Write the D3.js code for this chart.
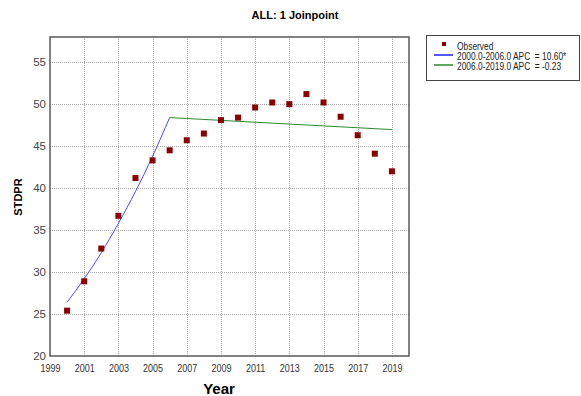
<!DOCTYPE html>
<html>
<head>
<meta charset="utf-8">
<script src="https://cdn.jsdelivr.net/npm/d3@7/dist/d3.min.js"></script>
<style>
  html, body { margin: 0; padding: 0; background: #fff; }
  svg { display: block; font-family: "Liberation Sans", Arial, sans-serif; }
  .legend-text { white-space: pre; }
</style>
</head>
<body>
<svg id="chart" width="581" height="396"></svg>
<script>
// Observed standardized rates by year
const years = [2000, 2001, 2002, 2003, 2004, 2005, 2006, 2007, 2008, 2009,
               2010, 2011, 2012, 2013, 2014, 2015, 2016, 2017, 2018, 2019];
const observed = [25.4, 28.9, 32.8, 36.7, 41.2, 43.3, 44.5, 45.7, 46.5, 48.1,
                  48.4, 49.6, 50.2, 50.0, 51.2, 50.2, 48.5, 46.3, 44.1, 42.0];

// Joinpoint segment 1 (2000-2006) modelled values
const seg1Years = [2000, 2001, 2002, 2003, 2004, 2005, 2006];
const seg1Fit = [26.4, 29.2, 32.3, 35.8, 39.6, 43.8, 48.4];

// Joinpoint segment 2 (2006-2019) modelled values
const seg2Years = [2006, 2007, 2008, 2009, 2010, 2011, 2012, 2013, 2014,
                   2015, 2016, 2017, 2018, 2019];
const seg2Fit = [48.40, 48.29, 48.18, 48.07, 47.96, 47.85, 47.74, 47.63,
                 47.52, 47.41, 47.30, 47.19, 47.08, 46.97];

const xTicks = [1999, 2001, 2003, 2005, 2007, 2009, 2011, 2013, 2015, 2017, 2019];
const yTicks = [20, 25, 30, 35, 40, 45, 50, 55];

const legendLabels = ["Observed", "2000.0-2006.0 APC  = 10.60*", "2006.0-2019.0 APC  = -0.23"];
const legendColors = ["#8b0000", "#1f1fff", "#2a8a2a"];

const svg = d3.select("#chart");
const plot = { left: 50, top: 37, right: 409, bottom: 356 };

const x = d3.scaleLinear().domain([1999, 2020]).range([plot.left, plot.right]);
const y = d3.scaleLinear().domain([20, 58]).range([plot.bottom, plot.top]);

// Title
svg.append("text")
  .attr("x", 295).attr("y", 19)
  .attr("text-anchor", "middle")
  .attr("font-size", 11).attr("font-weight", "bold")
  .text("ALL: 1 Joinpoint");

// Grid lines
const grid = svg.append("g").attr("stroke", "#aaa").attr("stroke-width", 1)
  .attr("stroke-dasharray", "1,1");
grid.selectAll("line.v").data(xTicks.slice(1)).join("line")
  .attr("x1", d => Math.round(x(d)) + 0.5).attr("x2", d => Math.round(x(d)) + 0.5)
  .attr("y1", plot.top).attr("y2", plot.bottom);
grid.selectAll("line.h").data(yTicks.slice(1)).join("line")
  .attr("y1", d => Math.round(y(d)) + 0.5).attr("y2", d => Math.round(y(d)) + 0.5)
  .attr("x1", plot.left).attr("x2", plot.right);

// Axes (labels only, frame drawn separately)
const xAxis = svg.append("g")
  .attr("transform", `translate(0,${plot.bottom})`)
  .call(d3.axisBottom(x).tickValues(xTicks).tickFormat(d3.format("d")).tickSize(0).tickPadding(9));
xAxis.select(".domain").remove();
xAxis.selectAll("text").attr("font-size", 10).attr("fill", "#333")
  .attr("transform", "scale(0.9,1)");

const yAxis = svg.append("g")
  .attr("transform", `translate(${plot.left},0)`)
  .call(d3.axisLeft(y).tickValues(yTicks).tickSize(0).tickPadding(4));
yAxis.select(".domain").remove();
yAxis.selectAll("text").attr("font-size", 11.5).attr("fill", "#444");

// Frame
svg.append("rect")
  .attr("x", plot.left).attr("y", plot.top)
  .attr("width", plot.right - plot.left).attr("height", plot.bottom - plot.top)
  .attr("fill", "none").attr("stroke", "#5a5a5a").attr("stroke-width", 1.5);

// Fitted segments
const line = d3.line().x(d => x(d[0])).y(d => y(d[1])).curve(d3.curveMonotoneX);
svg.append("path")
  .datum(d3.zip(seg1Years, seg1Fit))
  .attr("fill", "none").attr("stroke", legendColors[1]).attr("stroke-width", 1)
  .attr("opacity", 0.8)
  .attr("d", line);
svg.append("path")
  .datum(d3.zip(seg2Years, seg2Fit))
  .attr("fill", "none").attr("stroke", legendColors[2]).attr("stroke-width", 1)
  .attr("d", line);

// Observed points
const ms = 6;
svg.selectAll("rect.obs").data(d3.zip(years, observed)).join("rect")
  .attr("class", "obs")
  .attr("x", d => x(d[0]) - ms / 2).attr("y", d => y(d[1]) - ms / 2)
  .attr("width", ms).attr("height", ms)
  .attr("fill", legendColors[0]);

// Axis titles
svg.append("text")
  .attr("transform", "translate(22,197) rotate(-90)")
  .attr("text-anchor", "middle")
  .attr("font-size", 11).attr("font-weight", "bold")
  .text("STDPR");
svg.append("text")
  .attr("x", 219).attr("y", 394)
  .attr("text-anchor", "middle")
  .attr("font-size", 15).attr("font-weight", "bold")
  .text("Year");

// Legend
const lg = svg.append("g");
lg.append("rect")
  .attr("x", 426.5).attr("y", 35.5).attr("width", 153).attr("height", 45)
  .attr("fill", "#fff").attr("stroke", "#444").attr("stroke-width", 1);
const rowY = [46, 56, 66];
lg.append("rect")
  .attr("x", 442).attr("y", 42).attr("width", 4).attr("height", 4)
  .attr("fill", legendColors[0]);
lg.selectAll("line.key").data([1, 2]).join("line")
  .attr("x1", 434).attr("x2", 453)
  .attr("y1", i => rowY[i] - 1).attr("y2", i => rowY[i] - 1)
  .attr("stroke", i => legendColors[i]).attr("stroke-width", 1.5);
lg.selectAll("text").data(legendLabels).join("text")
  .attr("class", "legend-text")
  .attr("transform", (d, i) => `translate(457,${rowY[i] + 3.5}) scale(0.84,1)`)
  .attr("font-size", 10).attr("fill", "#222")
  .text(d => d);
</script>
</body>
</html>
